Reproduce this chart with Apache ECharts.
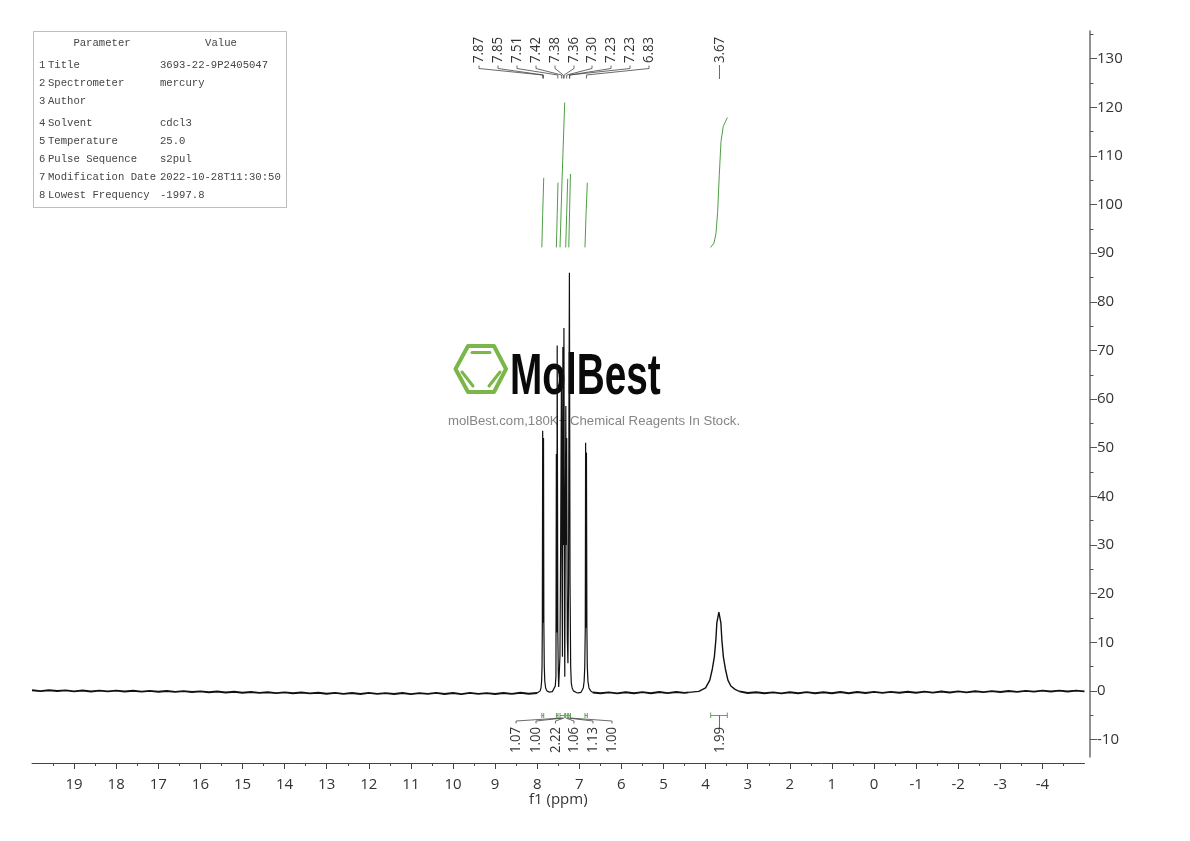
<!DOCTYPE html>
<html>
<head>
<meta charset="utf-8">
<style>
  html, body { margin: 0; padding: 0; background: #fff; }
  #chart { width: 1190px; height: 841px; }
</style>
<script src="https://cdn.jsdelivr.net/npm/echarts@6/dist/echarts.min.js"></script>
</head>
<body>
<div id="chart"></div>
<script>
// spectrum as [ppm, intensity], high ppm first
var baselineLeft = [
  [20.0,0.12],[19.8,-0.06],[19.6,0.14],[19.4,-0.04],[19.2,0.1],[19.0,-0.1],[18.8,0.08],[18.6,-0.12],
  [18.4,0.06],[18.2,-0.1],[18.0,0.05],[17.8,-0.14],[17.6,0.03],[17.4,-0.16],[17.2,0.0],[17.0,-0.18],
  [16.8,-0.02],[16.6,-0.2],[16.4,-0.06],[16.2,-0.24],[16.0,-0.1],[15.8,-0.28],[15.6,-0.14],[15.4,-0.34],
  [15.2,-0.18],[15.0,-0.38],[14.8,-0.24],[14.6,-0.42],[14.4,-0.28],[14.2,-0.46],[14.0,-0.3],[13.8,-0.5],
  [13.6,-0.34],[13.4,-0.52],[13.2,-0.38],[13.0,-0.6],[12.8,-0.42],[12.6,-0.62],[12.4,-0.44],[12.2,-0.64],
  [12.0,-0.42],[11.8,-0.62],[11.6,-0.46],[11.4,-0.64],[11.2,-0.44],[11.0,-0.66],[10.8,-0.46],[10.6,-0.62],
  [10.4,-0.42],[10.2,-0.64],[10.0,-0.44],[9.8,-0.66],[9.6,-0.42],[9.4,-0.62],[9.2,-0.46],[9.0,-0.64],
  [8.8,-0.44],[8.6,-0.62],[8.4,-0.4],[8.2,-0.58],[8.0,-0.45]
];
var aromaticPeaks = [
  [8.0,-0.45],[7.96,-0.3],[7.93,0.0],[7.91,0.6],[7.895,2.0],[7.885,5],[7.878,14],[7.87,53.5],
  [7.86,14],[7.85,52],[7.842,14],[7.832,5],[7.82,2],[7.8,0.6],[7.77,0.0],[7.72,-0.25],
  [7.68,-0.05],[7.64,-0.15],[7.6,0.2],[7.57,1.0],[7.555,3],[7.545,48.7],[7.535,12],[7.525,71],
  [7.51,12],[7.5,4.5],[7.49,0.8],[7.46,7],[7.45,20],[7.44,35],[7.425,64],[7.41,20],
  [7.4,7],[7.39,70.7],[7.375,30],[7.365,74.6],[7.35,12],[7.345,2.9],[7.335,28],[7.32,58.6],
  [7.31,30],[7.3,52],[7.285,11],[7.27,5.7],[7.255,22],[7.245,60],[7.235,86],[7.22,22],
  [7.205,5],[7.19,1.6],[7.17,0.6],[7.14,0.0],[7.11,-0.25],[7.07,-0.35],[7.04,-0.1],[7.02,-0.4],
  [6.99,-0.1],[6.96,-0.3],[6.93,0.0],[6.905,0.6],[6.885,2],[6.87,5],[6.858,13],[6.85,51],
  [6.84,13],[6.83,49],[6.82,13],[6.81,5],[6.795,2],[6.77,0.6],[6.73,0.0],[6.68,-0.35]
];
var baselineMid = [
  [6.68,-0.35],[6.5,-0.5],[6.3,-0.3],[6.1,-0.52],[5.9,-0.28],[5.7,-0.5],[5.5,-0.26],[5.3,-0.48],
  [5.1,-0.24],[4.9,-0.46],[4.7,-0.24],[4.5,-0.42],[4.4,-0.3]
];
var methylenePeak = [
  [4.4,-0.3],[4.16,-0.1],[4.0,0.6],[3.9,2.2],[3.84,4.5],[3.792,7],[3.756,10.5],[3.733,14],
  [3.698,15.6],[3.685,16.2],[3.672,15.6],[3.637,14],[3.614,10.5],[3.578,7],[3.53,4.5],[3.47,2.2],
  [3.4,1.0],[3.3,0.3],[3.2,-0.1]
];
var baselineRight = [
  [3.2,-0.1],[3.0,-0.45],[2.8,-0.28],[2.6,-0.5],[2.4,-0.3],[2.2,-0.52],[2.0,-0.28],[1.8,-0.5],
  [1.6,-0.26],[1.4,-0.48],[1.2,-0.28],[1.0,-0.5],[0.8,-0.24],[0.6,-0.5],[0.4,-0.22],[0.2,-0.44],
  [0.0,-0.2],[-0.2,-0.42],[-0.4,-0.2],[-0.6,-0.4],[-0.8,-0.18],[-1.0,-0.38],[-1.2,-0.16],[-1.4,-0.36],
  [-1.6,-0.14],[-1.8,-0.34],[-2.0,-0.1],[-2.2,-0.3],[-2.4,-0.08],[-2.6,-0.26],[-2.8,-0.06],[-3.0,-0.22],
  [-3.2,-0.02],[-3.4,-0.2],[-3.6,0.0],[-3.8,-0.16],[-4.0,0.04],[-4.2,-0.14],[-4.4,0.06],[-4.6,-0.12],
  [-4.8,0.06],[-5.0,-0.1]
];

// integral curves, [ppm, value]
var integralCurves = [
  [[7.89,91.2],[7.87,98],[7.845,105.5]],
  [[7.544,91.2],[7.525,98],[7.506,104.5]],
  [[7.458,91.2],[7.41,105],[7.347,121]],
  [[7.323,91.2],[7.3,98],[7.275,105.3]],
  [[7.25,91.2],[7.23,99],[7.21,106.3]],
  [[6.865,91.2],[6.84,98],[6.81,104.5]],
  [[3.879,91.2],[3.8,92.1],[3.753,94.1],[3.713,98.6],[3.675,106.1],[3.634,113],[3.58,116.1],[3.484,117.9]]
];

// peak labels along the top
var peakLabels = ["7.87","7.85","7.51","7.42","7.38","7.36","7.30","7.23","7.23","6.83"];
var peakPpm = [7.87,7.85,7.51,7.42,7.38,7.36,7.30,7.23,7.23,6.83];
var peakLabelX = [479,498,517,536,555,574,592,611,630,649];

// integral labels along the bottom
var integralLabels = ["1.07","1.00","2.22","1.06","1.13","1.00"];
var integralFrom = [7.89,7.544,7.458,7.323,7.25,6.865];
var integralTo = [7.845,7.506,7.347,7.275,7.21,6.81];
var integralTipPpm = [7.42,7.38,7.36,7.32,7.28,7.22];
var integralLabelX = [516,536,555.5,574,593,612];

// the table in the top left
var tableNumbers = ["1","2","3","4","5","6","7","8"];
var tableNames = ["Title","Spectrometer","Author","Solvent","Temperature","Pulse Sequence","Modification Date","Lowest Frequency"];
var tableValues = ["3693-22-9P2405047","mercury","","cdcl3","25.0","s2pul","2022-10-28T11:30:50","-1997.8"];
var tableRowY = [65,83,101,123,141,159,177,195];

var xMajor = [19,18,17,16,15,14,13,12,11,10,9,8,7,6,5,4,3,2,1,0,-1,-2,-3,-4];
var xMinor = [19.5,18.5,17.5,16.5,15.5,14.5,13.5,12.5,11.5,10.5,9.5,8.5,7.5,6.5,5.5,4.5,3.5,2.5,1.5,0.5,-0.5,-1.5,-2.5,-3.5,-4.5];
var yMajor = [-10,0,10,20,30,40,50,60,70,80,90,100,110,120,130];
var yMinor = [-5,5,15,25,35,45,55,65,75,85,95,105,115,125,135];

var textColor = "#333";
var sansFont = '"Open Sans", sans-serif';
var green = "#4f9e45";
var leaf = "#7ab648";

var chart = echarts.init(document.getElementById("chart"), null, { renderer: "canvas" });

function rotatedLabel(text, x, y) {
  return {
    type: "text", x: x, y: y, rotation: Math.PI / 2, scaleX: 0.88,
    style: { text: text, fill: textColor, font: "15px " + sansFont, textAlign: "left", textVerticalAlign: "middle" }
  };
}

function stroke(points, color, width) {
  return { type: "polyline", shape: { points: points }, style: { fill: null, stroke: color, lineWidth: width } };
}

function leaders(params, api) {
  var i = params.dataIndex;
  var tip = api.coord([peakPpm[i], 0])[0];
  var lx = peakLabelX[i];
  return {
    type: "group",
    children: [
      stroke([[lx, 65.5], [lx, 68.5], [tip, 75], [tip, 78.5]], "#444", 0.8),
      rotatedLabel(peakLabels[i], lx, 63)
    ]
  };
}

function integralMarks(params, api) {
  var i = params.dataIndex;
  var a = api.coord([integralFrom[i], 0])[0];
  var b = api.coord([integralTo[i], 0])[0];
  var tip = api.coord([integralTipPpm[i], 0])[0];
  var lx = integralLabelX[i];
  return {
    type: "group",
    children: [
      stroke([[a, 713], [a, 718]], green, 0.9),
      stroke([[b, 713], [b, 718]], green, 0.9),
      stroke([[a, 715.5], [b, 715.5]], green, 0.9),
      stroke([[tip, 718], [lx, 721], [lx, 723.5]], "#444", 0.8),
      rotatedLabel(integralLabels[i], lx, 753)
    ]
  };
}

function methyleneMarks(params, api) {
  var tip = api.coord([3.67, 0])[0];
  var a = api.coord([3.879, 0])[0];
  var b = api.coord([3.484, 0])[0];
  return {
    type: "group",
    children: [
      stroke([[tip, 65], [tip, 79]], "#444", 0.8),
      rotatedLabel("3.67", tip, 63),
      stroke([[a, 712.5], [a, 718]], green, 0.9),
      stroke([[b, 712.5], [b, 718]], green, 0.9),
      stroke([[a, 715.5], [b, 715.5]], green, 0.9),
      stroke([[tip, 715.5], [tip, 729]], "#444", 0.8),
      rotatedLabel("1.99", tip, 753)
    ]
  };
}

var monoFont = '10.6px "Liberation Mono", monospace';
var tableGraphics = [
  { type: "rect", shape: { x: 33.5, y: 31.5, width: 253, height: 176 }, style: { fill: "#fff", stroke: "#bdbdbd", lineWidth: 1 } },
  { type: "text", x: 102, y: 43, style: { text: "Parameter", font: monoFont, fill: "#444", textAlign: "center", textVerticalAlign: "middle" } },
  { type: "text", x: 221, y: 43, style: { text: "Value", font: monoFont, fill: "#444", textAlign: "center", textVerticalAlign: "middle" } }
];
tableNames.forEach(function (name, i) {
  tableGraphics.push({ type: "text", x: 39, y: tableRowY[i], style: { text: tableNumbers[i], font: monoFont, fill: "#444", textVerticalAlign: "middle" } });
  tableGraphics.push({ type: "text", x: 48, y: tableRowY[i], style: { text: name, font: monoFont, fill: "#444", textVerticalAlign: "middle" } });
  tableGraphics.push({ type: "text", x: 160, y: tableRowY[i], style: { text: tableValues[i], font: monoFont, fill: "#444", textVerticalAlign: "middle" } });
});

var logoGraphics = [
  { type: "polygon", shape: { points: [[455.5,369],[468,346],[494,346],[506,369],[494,392],[468,392]] },
    style: { fill: null, stroke: leaf, lineWidth: 4, lineJoin: "round" } },
  { type: "line", shape: { x1: 472, y1: 352.5, x2: 490, y2: 352.5 }, style: { stroke: leaf, lineWidth: 3, lineCap: "round" } },
  { type: "line", shape: { x1: 462, y1: 372, x2: 473, y2: 386 }, style: { stroke: leaf, lineWidth: 3, lineCap: "round" } },
  { type: "line", shape: { x1: 500, y1: 372, x2: 489, y2: 386 }, style: { stroke: leaf, lineWidth: 3, lineCap: "round" } },
  { type: "text", x: 510, y: 407, scaleX: 0.668, scaleY: 1,
    style: { text: "MolBest", font: 'bold 58px "Liberation Sans", sans-serif', fill: "#0a0a0a", textVerticalAlign: "bottom" } },
  { type: "text", x: 594, y: 421,
    style: { text: "molBest.com,180K+ Chemical Reagents In Stock.", font: '13.2px "Liberation Sans", sans-serif', fill: "#858585", textAlign: "center", textVerticalAlign: "middle" } }
];

function spectrumLine(points, width) {
  return {
    type: "line", data: points, showSymbol: false, silent: true, z: 5, clip: false,
    lineStyle: { color: "#111", width: width }
  };
}

var series = [
  spectrumLine(baselineLeft, 1.9),
  spectrumLine(aromaticPeaks, 1.2),
  spectrumLine(baselineMid, 1.9),
  spectrumLine(methylenePeak, 1.4),
  spectrumLine(baselineRight, 1.9)
];
integralCurves.forEach(function (curve) {
  series.push({
    type: "line", data: curve, showSymbol: false, silent: true, z: 4,
    lineStyle: { color: green, width: 1 }
  });
});
series.push({ type: "custom", renderItem: leaders, data: peakPpm, clip: false, silent: true, z: 6 });
series.push({ type: "custom", renderItem: integralMarks, data: integralLabels, clip: false, silent: true, z: 6 });
series.push({ type: "custom", renderItem: methyleneMarks, data: [3.67], clip: false, silent: true, z: 6 });

chart.setOption({
  animation: false,
  backgroundColor: "#fff",
  grid: { left: 32, right: 105.5, top: 31, bottom: 84 },
  xAxis: [{
    type: "value", inverse: true, min: -5, max: 20, offset: 6,
    name: "f1 (ppm)", nameLocation: "center", nameGap: 29, nameMoveOverlap: false,
    nameTextStyle: { fontFamily: sansFont, fontSize: 15, color: textColor },
    axisLine: { onZero: false, lineStyle: { color: "#444", width: 1 } },
    axisTick: { length: 6, customValues: xMajor, lineStyle: { color: "#444" } },
    splitLine: { show: false },
    axisLabel: { customValues: xMajor, margin: 14, fontFamily: sansFont, fontSize: 15, color: textColor }
  }, {
    type: "value", inverse: true, min: -5, max: 20, offset: 6, position: "bottom",
    axisLine: { show: false, onZero: false },
    axisTick: { show: true, length: 3, customValues: xMinor, lineStyle: { color: "#444" } },
    splitLine: { show: false },
    axisLabel: { show: false }
  }],
  yAxis: [{
    type: "value", position: "right", min: -13.6, max: 135.7, offset: 5.5,
    axisLine: { show: true, onZero: false, lineStyle: { color: "#777", width: 1.6 } },
    axisTick: { length: 7, customValues: yMajor, lineStyle: { color: "#555" } },
    splitLine: { show: false },
    axisLabel: { customValues: yMajor, margin: 7, fontFamily: sansFont, fontSize: 15, color: textColor }
  }, {
    type: "value", position: "right", min: -13.6, max: 135.7, offset: 5.5,
    axisLine: { show: false, onZero: false },
    axisTick: { show: true, length: 3.5, customValues: yMinor, lineStyle: { color: "#555" } },
    splitLine: { show: false },
    axisLabel: { show: false }
  }],
  graphic: tableGraphics.concat(logoGraphics),
  series: series
});
</script>
</body>
</html>
